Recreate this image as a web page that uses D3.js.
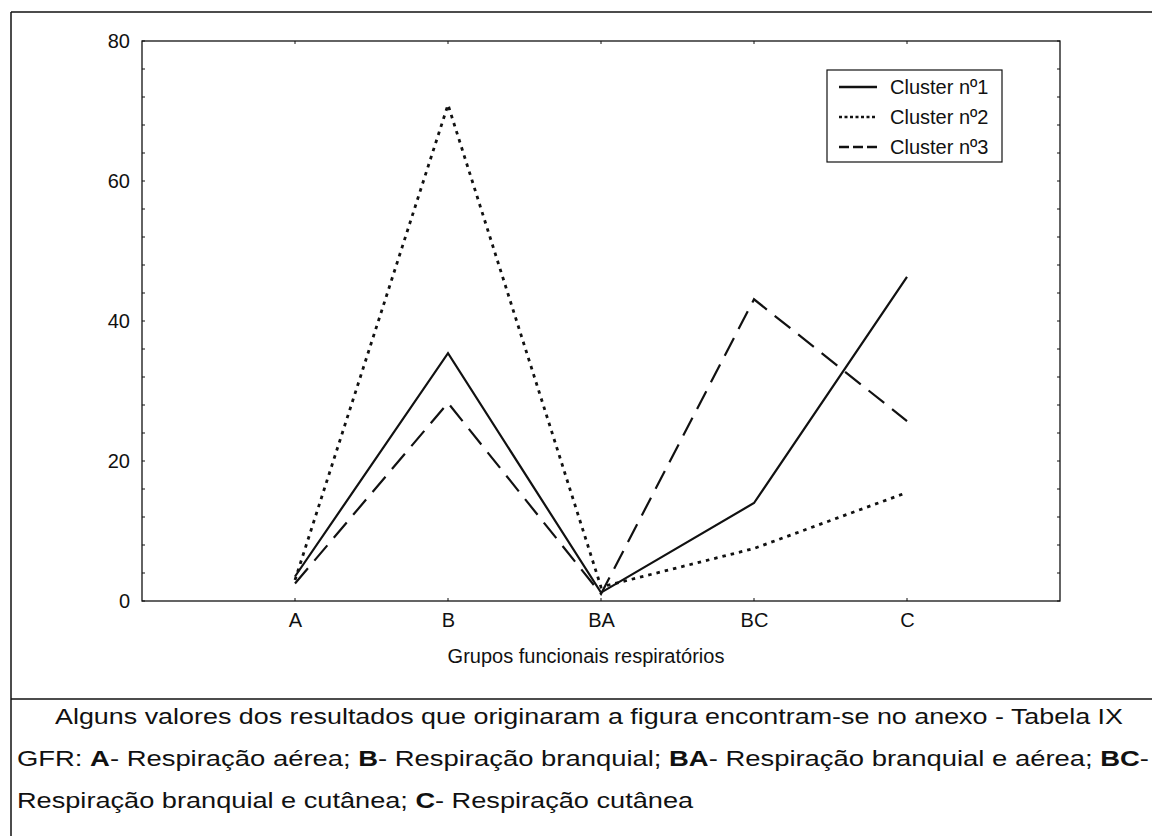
<!DOCTYPE html>
<html>
<head>
<meta charset="utf-8">
<script src="https://cdn.jsdelivr.net/npm/d3@7"></script>
<style>
  html, body { margin: 0; padding: 0; background: #fff; }
  svg { display: block; font-family: "Liberation Sans", Arial, sans-serif; }
</style>
</head>
<body>
<svg id="chart" width="1152" height="836"></svg>
<script>
const categories = ["A", "B", "BA", "BC", "C"];
const cluster1 = [3.5, 35.4, 1.2, 14.0, 46.3];
const cluster2 = [3.0, 70.9, 2.0, 7.5, 15.5];
const cluster3 = [2.5, 28.3, 1.0, 43.1, 25.7];
const seriesNames = ["Cluster nº1", "Cluster nº2", "Cluster nº3"];
const yTicks = [0, 20, 40, 60, 80];
const xTitle = "Grupos funcionais respiratórios";
const note1 = "Alguns valores dos resultados que originaram a figura encontram-se no anexo - Tabela IX";
const note2 = [["GFR: ", false], ["A", true], ["- Respiração aérea; ", false], ["B", true], ["- Respiração branquial; ", false], ["BA", true], ["- Respiração branquial e aérea; ", false], ["BC", true], ["-", false]];
const note3 = [["Respiração branquial e cutânea; ", false], ["C", true], ["- Respiração cutânea", false]];

(function () {
const svg = d3.select("#chart");
const ink = "#111";

const pLeft = 142, pRight = 1060, pTop = 41, pBottom = 601;

const x = d3.scaleLinear().domain([0, categories.length + 1]).range([pLeft, pRight]);
const y = d3.scaleLinear().domain([0, 80]).range([pBottom, pTop]);

// outer frame
svg.append("line").attr("x1", 11).attr("x2", 11).attr("y1", 12).attr("y2", 836).attr("stroke", ink).attr("stroke-width", 1.5);
svg.append("line").attr("x1", 11).attr("x2", 1152).attr("y1", 12).attr("y2", 12).attr("stroke", ink).attr("stroke-width", 1.5);
svg.append("line").attr("x1", 11).attr("x2", 1152).attr("y1", 699).attr("y2", 699).attr("stroke", ink).attr("stroke-width", 1.5);

// plot frame
svg.append("rect").attr("x", pLeft).attr("y", pTop).attr("width", pRight - pLeft).attr("height", pBottom - pTop)
  .attr("fill", "none").attr("stroke", ink).attr("stroke-width", 1.3);

// minor inward ticks on left / right
const minor = d3.range(0, 81, 4);
svg.append("g").selectAll("line").data(minor).join("line")
  .attr("x1", pLeft).attr("x2", pLeft + 3).attr("y1", d => y(d)).attr("y2", d => y(d))
  .attr("stroke", ink).attr("stroke-width", 1);
svg.append("g").selectAll("line").data(minor).join("line")
  .attr("x1", pRight).attr("x2", pRight - 3).attr("y1", d => y(d)).attr("y2", d => y(d))
  .attr("stroke", ink).attr("stroke-width", 1);

// y axis labels
const yAxis = d3.axisLeft(y).tickValues(yTicks).tickSize(0).tickPadding(12).tickFormat(d3.format("d"));
const gy = svg.append("g").attr("transform", `translate(${pLeft},0)`).call(yAxis);
gy.select(".domain").remove();
gy.selectAll("text").attr("font-size", 20).attr("fill", ink).attr("font-family", "Liberation Sans, Arial, sans-serif");

// x axis labels
const xAxis = d3.axisBottom(x).tickValues(categories.map((c, i) => i + 1)).tickSize(0).tickPadding(12)
  .tickFormat(d => categories[d - 1]);
const gx = svg.append("g").attr("transform", `translate(0,${pBottom})`).call(xAxis);
gx.select(".domain").remove();
gx.selectAll("text").attr("font-size", 20).attr("fill", ink).attr("font-family", "Liberation Sans, Arial, sans-serif");

// small inward category ticks top & bottom
svg.append("g").selectAll("line").data(categories).join("line")
  .attr("x1", (d, i) => x(i + 1)).attr("x2", (d, i) => x(i + 1))
  .attr("y1", pBottom).attr("y2", pBottom - 3).attr("stroke", ink);
svg.append("g").selectAll("line").data(categories).join("line")
  .attr("x1", (d, i) => x(i + 1)).attr("x2", (d, i) => x(i + 1))
  .attr("y1", pTop).attr("y2", pTop + 3).attr("stroke", ink);

// x title
svg.append("text").attr("x", 586).attr("y", 663).attr("text-anchor", "middle")
  .attr("font-size", 20).attr("fill", ink).text(xTitle);

// lines
const series = [
  { name: seriesNames[0], values: cluster1, dash: null, legendDash: null, w: 2.2 },
  { name: seriesNames[1], values: cluster2, dash: "3.5,5", legendDash: "3,2.5", w: 2.8 },
  { name: seriesNames[2], values: cluster3, dash: "20,10", legendDash: "10,4", w: 2.2 }
];
const line = d3.line().x((d, i) => x(i + 1)).y(d => y(d));
svg.append("g").selectAll("path").data(series).join("path")
  .attr("d", s => line(s.values))
  .attr("fill", "none").attr("stroke", ink).attr("stroke-width", s => s.w)
  .attr("stroke-dasharray", s => s.dash);

// legend
const lg = svg.append("g");
lg.append("rect").attr("x", 827).attr("y", 70).attr("width", 175).attr("height", 92)
  .attr("fill", "#fff").attr("stroke", ink).attr("stroke-width", 1.2);
series.forEach((s, i) => {
  const yy = 87 + i * 30;
  lg.append("line").attr("x1", 839).attr("x2", 877).attr("y1", yy).attr("y2", yy)
    .attr("stroke", ink).attr("stroke-width", 2.4).attr("stroke-dasharray", s.legendDash);
  lg.append("text").attr("x", 890).attr("y", yy + 7).attr("font-size", 20).attr("fill", ink).text(s.name);
});

// notes
const t1 = svg.append("text").attr("x", 55).attr("y", 724).attr("font-size", 22).attr("fill", ink).text(note1);
function addRich(parts, xx, yy) {
  const t = svg.append("text").attr("x", xx).attr("y", yy).attr("font-size", 22).attr("fill", ink);
  t.selectAll("tspan").data(parts).join("tspan")
    .attr("font-weight", d => d[1] ? "bold" : "normal").text(d => d[0]);
  return t;
}
const t2 = addRich(note2, 17, 766);
const t3 = addRich(note3, 17, 808);

const n1 = t1.node().getComputedTextLength();
const n2 = t2.node().getComputedTextLength();
const n3 = t3.node().getComputedTextLength();
const s1 = 1068 / n1, s2 = 1132 / n2;
t1.attr("textLength", 1068).attr("lengthAdjust", "spacingAndGlyphs");
t2.attr("textLength", 1132).attr("lengthAdjust", "spacingAndGlyphs");
t3.attr("textLength", n3 * (s1 + s2) / 2).attr("lengthAdjust", "spacingAndGlyphs");
})();
</script>
</body>
</html>
